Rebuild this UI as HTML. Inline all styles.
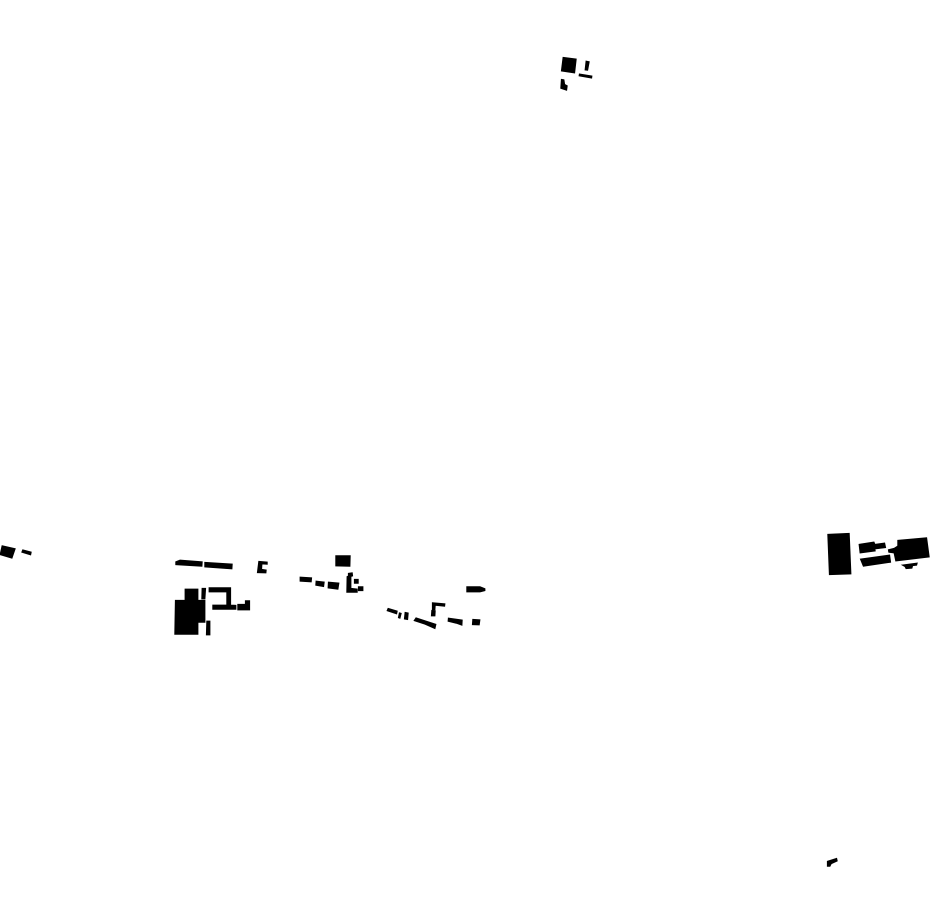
<!DOCTYPE html>
<html>
<head>
<meta charset="utf-8">
<style>
html,body{margin:0;padding:0;background:#fff;width:930px;height:924px;overflow:hidden}
svg{display:block}
</style>
</head>
<body>
<svg width="930" height="924" viewBox="0 0 930 924" xmlns="http://www.w3.org/2000/svg">
<rect width="930" height="924" fill="#fff"/>
<g fill="#000" stroke="#000" stroke-width="0.8" stroke-linejoin="miter">
<polygon points="563,57.3 576.3,59 574.7,73 561.3,71"/>
<polygon points="586,61 589.3,61.7 587.7,70.3 585,70"/>
<polygon points="579.3,73.9 592,75.9 591.7,78.2 579,75.9"/>
<polygon points="561.3,79.3 564,79.7 564.7,84.3 567.3,85.7 566.7,90.3 560.7,88.3"/>

<polygon points="2,545.7 15.3,548.7 12,558.3 0,554.7"/>
<polygon points="22.7,549.7 31.3,552 30.7,555 21.7,552.3"/>

<polygon points="175.7,561.7 180,560 202.3,561.7 202,566.3 175.7,564.7"/>
<polygon points="204.7,562.3 232.3,564 232,569 204.7,567"/>
<polygon points="258.7,561.3 267.3,562 267.3,564.3 262,564 261.7,569.3 266.3,570 266,573 257.3,572.7"/>
<polygon points="185,589 198,589 198,600.3 205,600.3 205,622.3 198,622.3 198,634.3 174.7,634.3 175.3,600.3 185,600.3"/>
<polygon points="202,588.3 205.7,588.3 205,599 201.7,599"/>
<polygon points="206.7,621 210,621 210,635 206.3,635"/>
<polygon points="209,587.7 230.7,587.7 230.7,605 236,605.3 236,609.3 212.7,609.3 212.7,605 226.7,605 226.7,592 209,592"/>
<polygon points="237.7,604.3 245.3,604.3 245.3,600.7 249.7,600.7 249.7,610 237.7,610"/>

<polygon points="335.7,555.7 350.3,555.7 350,566.3 335.7,566"/>
<polygon points="300,577 311.7,577.7 311.3,582 300,581.3"/>
<polygon points="316,581 324.3,582 323.7,586.7 315.7,585.3"/>
<polygon points="328.3,582 339,583 338,589.3 328,588"/>
<polygon points="348.3,573.3 352.3,572.7 352.7,576 351,576.5 351,588.3 357.3,589 357.3,592.3 346.7,592.3 347,576.5 348.3,576"/>
<polygon points="354.3,579.3 358.3,579.3 358.3,583.3 354.3,583.3"/>
<polygon points="358.3,586.7 363,586.7 363,590.7 358.3,590.7"/>

<polygon points="466.7,586.7 480,586.7 485,588.7 485,590.7 480,592 466.7,592"/>
<polygon points="388,608.3 397.3,611 396.7,614 387,610.7"/>
<polygon points="399.3,612.7 401.3,613.3 400,618.3 398.3,617.7"/>
<polygon points="405,612.3 408.3,613 407.7,619.7 404.3,619"/>
<polygon points="416,617.7 436,624.3 435,628.7 425,624.3 414,620.7"/>
<polygon points="432.3,602.7 445,603.7 444.7,606.3 435.3,605.3 435,610 432.3,610"/>
<polygon points="431.7,610.3 435.3,610.7 435,616 431.3,616"/>
<polygon points="448.3,618 457.3,619.3 462.3,620 462,625.3 456.3,623.3 448,621.3"/>
<polygon points="472.7,619.3 480,619.7 479.3,625 472.3,624.7"/>

<polygon points="827.7,534.3 849.3,533.3 851,574 829.3,574.7"/>
<polygon points="859,544.3 874,542 875,544.3 884.7,543 885.7,547.7 875,549 875.3,551 860,553"/>
<polygon points="860.3,559 889.7,555 890.7,562.3 863.3,566.3"/>
<polygon points="897.7,540.3 926.7,537.7 929.3,557 895.7,561 894,553 888.7,552.3 888.3,549.7 894,548.3 897.7,546"/>
<polygon points="902,565 917.3,563 916.7,565.3 912.7,565.7 912,568.3 906,568.7 905,566.7"/>

<polygon points="827.3,861.3 836.7,858.3 837.3,861 831.3,863.7 830,866.3 827.3,866.3"/>
</g>
</svg>
</body>
</html>
